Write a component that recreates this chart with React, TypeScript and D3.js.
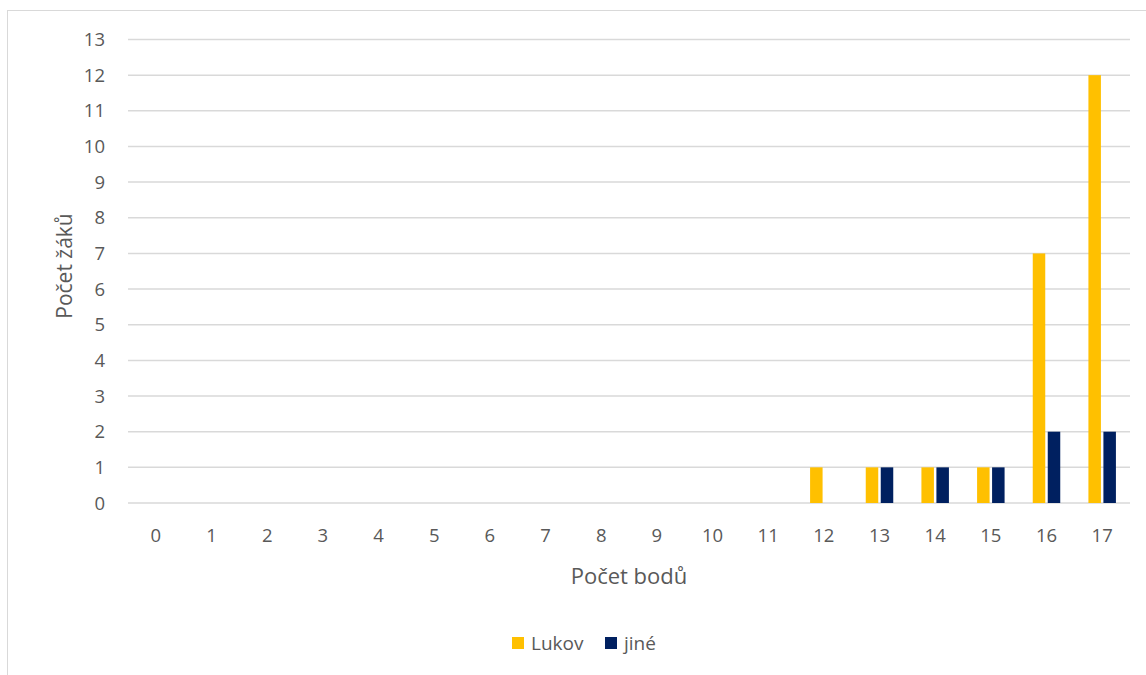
import React from "react";
import * as d3 from "d3";

const categories = ["0","1","2","3","4","5","6","7","8","9","10","11","12","13","14","15","16","17"];
const seriesNames = ["Lukov", "jiné"];
const lukov = [0,0,0,0,0,0,0,0,0,0,0,0,1,1,1,1,7,12];
const jine = [0,0,0,0,0,0,0,0,0,0,0,0,0,1,1,1,2,2];
const yTicks = [0,1,2,3,4,5,6,7,8,9,10,11,12,13];
const colors = ["#FFC000", "#002060"];

export default function App() {
  const W = 1146, H = 675;
  const left = 128, right = 1130, top = 39.5, bottom = 503;
  const x = d3.scaleBand().domain(categories).range([left, right]).paddingInner(0).paddingOuter(0);
  const y = d3.scaleLinear().domain([0, 13]).range([bottom, top]);
  const barW = 12.5, gap = 2.5;
  const series = [lukov, jine];
  const font = "'Open Sans', sans-serif";
  const textColor = "#595959";
  return (
    <svg width={W} height={H} style={{ position: "fixed", left: 0, top: 0, background: "#fff" }} fontFamily={font}>
      <rect x={7.5} y={10.5} width={1150} height={700} fill="#fff" stroke="#d9d9d9" strokeWidth={1} />
      {yTicks.map((t) => (
        <g key={t}>
          <line x1={left} x2={right} y1={y(t)} y2={y(t)} stroke="#d9d9d9" strokeWidth={1.5} />
          <text x={105} y={y(t)} dy="0.36em" textAnchor="end" fontSize={18.5} fill={textColor}>{t}</text>
        </g>
      ))}
      {series.map((vals, si) =>
        vals.map((v, i) => {
          if (v === 0) return null;
          const cx = (x(categories[i]) as number) + x.bandwidth() / 2;
          const bx = si === 0 ? cx - gap / 2 - barW : cx + gap / 2;
          return <rect key={`${si}-${i}`} x={bx} y={y(v)} width={barW} height={y(0) - y(v)} fill={colors[si]} />;
        })
      )}
      {categories.map((c) => (
        <text key={c} x={(x(c) as number) + x.bandwidth() / 2} y={542} textAnchor="middle" fontSize={18.5} fill={textColor}>{c}</text>
      ))}
      <text x={629} y={584} textAnchor="middle" fontSize={22} fill={textColor}>Počet bodů</text>
      <text transform={`translate(72, 266) rotate(-90)`} textAnchor="middle" fontSize={21} fill={textColor}>Počet žáků</text>
      {seriesNames.map((n, i) => {
        const lx = i === 0 ? 512 : 605;
        return (
          <g key={n}>
            <rect x={lx} y={637} width={12} height={12} fill={colors[i]} />
            <text x={lx + 19} y={650} fontSize={19} fill={textColor}>{n}</text>
          </g>
        );
      })}
    </svg>
  );
}
